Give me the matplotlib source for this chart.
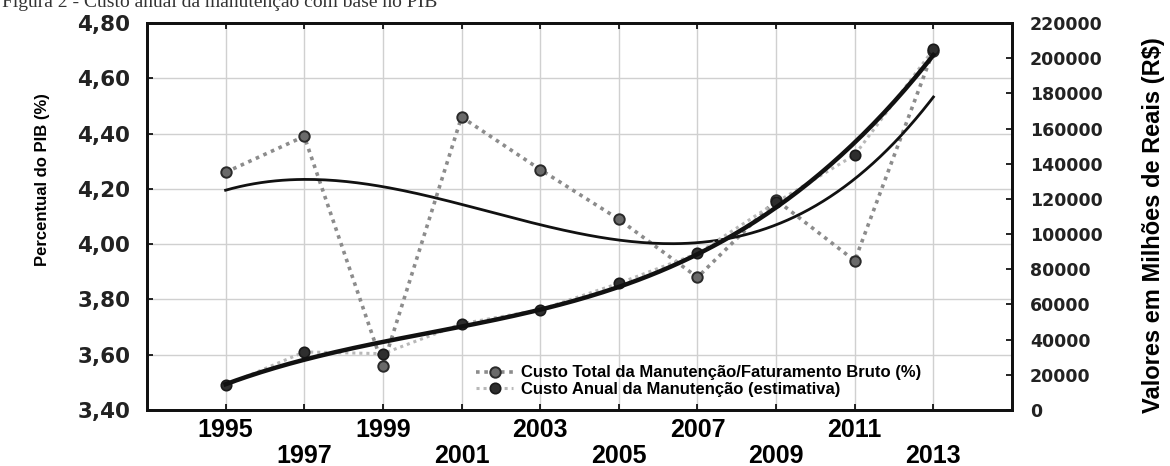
import numpy as np
import matplotlib.pyplot as plt

# dados (ano a ano, de 2 em 2)
years = [1995, 1997, 1999, 2001, 2003, 2005, 2007, 2009, 2011, 2013]
pct_faturamento = [4.26, 4.39, 3.56, 4.46, 4.27, 4.09, 3.88, 4.16, 3.94, 4.70]
custo_anual = [14000, 33000, 32000, 49000, 57000, 72000, 89000, 118000, 145000, 205000]

left_ticks = [3.40, 3.60, 3.80, 4.00, 4.20, 4.40, 4.60, 4.80]
right_ticks = [0, 20000, 40000, 60000, 80000, 100000, 120000, 140000,
               160000, 180000, 200000, 220000]
year_labels = ['1995', '\n1997', '1999', '\n2001', '2003', '\n2005',
               '2007', '\n2009', '2011', '\n2013']

label_pct = 'Custo Total da Manutenção/Faturamento Bruto (%)'
label_custo = 'Custo Anual da Manutenção (estimativa)'

fig, ax = plt.subplots(figsize=(11.7, 4.66), dpi=100)
fig.subplots_adjust(left=0.1256, right=0.865, bottom=0.1202, top=0.9506)
ax2 = ax.twinx()

# series com pontos
l1, = ax.plot(years, pct_faturamento, linestyle=(0, (1, 1.3)), lw=2.6, color='#8c8c8c',
              marker='o', ms=7.5, mfc='#6a6a6a', mec='#2a2a2a', mew=1.4, zorder=3)
l2, = ax2.plot(years, custo_anual, linestyle=(0, (1, 1.3)), lw=2.2, color='#b8b8b8',
               marker='o', ms=7.5, mfc='#2e2e2e', mec='#1a1a1a', mew=1.2, zorder=3)

# ajustes polinomiais (tendencia)
t = np.array(years) - 1995
tt = np.linspace(0, 18, 200)
fit_pct = np.polyval(np.polyfit(t, pct_faturamento, 3), tt)
fit_custo = np.polyval(np.polyfit(t, custo_anual, 3), tt)
ax.plot(tt + 1995, fit_pct, color='#111111', lw=2.0, zorder=4)
ax2.plot(tt + 1995, fit_custo, color='#111111', lw=3.2, zorder=4)

ax.set_xlim(1993, 2015)
ax.set_ylim(3.4, 4.8)
ax2.set_ylim(0, 220000)

ax.set_xticks(years, labels=year_labels)
ax.set_yticks(left_ticks, labels=[('%.2f' % v).replace('.', ',') for v in left_ticks])
ax2.set_yticks(right_ticks, labels=[str(v) for v in right_ticks])

ax.grid(True, color='#d0d0d0', lw=1)
ax.set_axisbelow(True)

ax.tick_params(axis='x', direction='in', top=True, length=4, width=1.2, pad=6)
ax.tick_params(axis='y', direction='in', length=4, width=1.2, pad=12)
ax2.tick_params(axis='y', direction='in', length=4, width=1.2, pad=13)

for lab in ax.get_xticklabels():
    lab.set_fontfamily('Liberation Sans')
    lab.set_fontweight('bold')
    lab.set_fontsize(18)
    lab.set_linespacing(1.1)
for lab in ax.get_yticklabels():
    lab.set_fontfamily('DejaVu Sans')
    lab.set_fontweight('bold')
    lab.set_fontsize(15.5)
    lab.set_color('#222222')
for lab in ax2.get_yticklabels():
    lab.set_fontfamily('DejaVu Sans')
    lab.set_fontweight('bold')
    lab.set_fontsize(12.5)
    lab.set_color('#222222')

for a in (ax, ax2):
    for s in a.spines.values():
        s.set_linewidth(2)
        s.set_color('#111111')

ax2.legend([l1, l2], [label_pct, label_custo], loc='lower left',
           bbox_to_anchor=(0.373, 0.016), frameon=False,
           prop=dict(family='Liberation Sans', weight='bold', size=12),
           handlelength=2.2, handletextpad=0.5, labelspacing=0.1, borderaxespad=0)

fig.text(0.036, 0.614, 'Percentual do PIB (%)', rotation=90, ha='center', va='center',
         family='Liberation Sans', weight='bold', size=12)
fig.text(0.9855, 0.517, 'Valores em Milhões de Reais (R$)', rotation=90, ha='center',
         va='center', family='Liberation Sans', weight='bold', size=17)

# titulo da figura, cortado no topo como no original
fig.text(0.002, 0.985, 'Figura 2 - Custo anual da manutenção com base no PIB',
         family='Liberation Serif', size=14, color='#333333', va='baseline')

fig.savefig('out.png', dpi=100)
